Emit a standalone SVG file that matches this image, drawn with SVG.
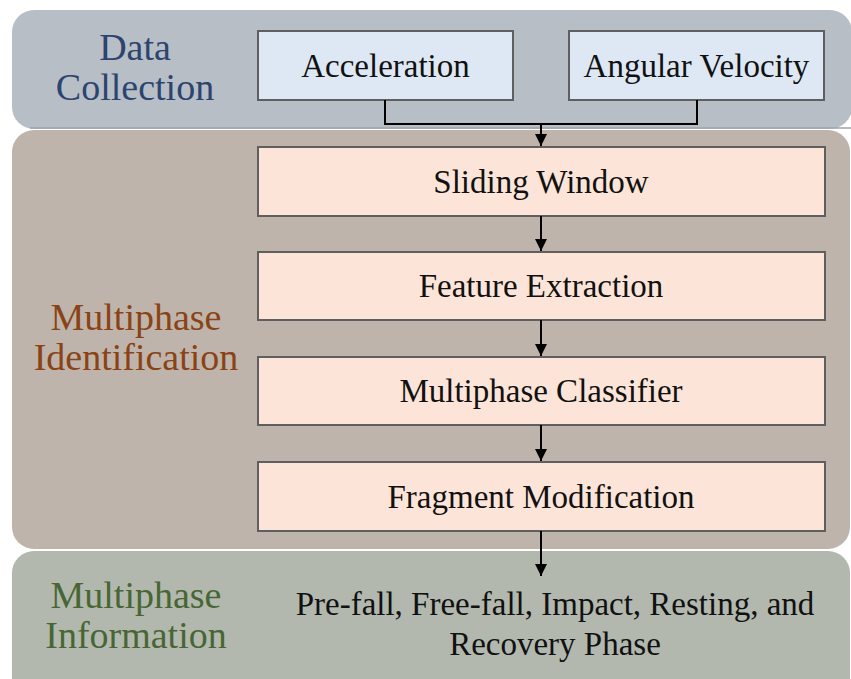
<svg xmlns="http://www.w3.org/2000/svg" width="851" height="679" viewBox="0 0 851 679">
<defs>
<style>
.box{stroke:#5f5f5f;stroke-width:2}
.blue{fill:#dde8f4}
.peach{fill:#fce5d8}
.conn{fill:none;stroke:#000;stroke-width:2}
.t{font-family:'Liberation Serif','Times New Roman',serif;font-size:33px;fill:#111;text-anchor:middle}
.lbl{font-family:'Liberation Serif','Times New Roman',serif;font-size:38px;text-anchor:middle}
</style>
<marker id="ah" markerWidth="12" markerHeight="12" refX="12" refY="6" orient="auto" markerUnits="userSpaceOnUse">
<path d="M0,0 L12,6 L0,12 Z" fill="#000"/>
</marker>
</defs>
<rect width="851" height="679" fill="#fff"/>
<g id="panel-data">
<rect x="12" y="10" width="840" height="119" rx="22" fill="#b8bec5"/>
<line x1="30" y1="128" x2="851" y2="128" stroke="#9ea3a8" stroke-width="1.5"/>
<text class="lbl" x="135" y="60" fill="#2c4470" style="font-family:'Liberation Serif',serif">Data</text>
<text class="lbl" x="135" y="100" fill="#2c4470" style="font-family:'Liberation Serif',serif">Collection</text>
</g>
<g id="panel-ident">
<rect x="12" y="130" width="838" height="419" rx="22" fill="#bfb4ab"/>
<text class="lbl" x="136" y="330" fill="#8a4315" style="font-family:'Liberation Serif',serif">Multiphase</text>
<text class="lbl" x="136" y="370" fill="#8a4315" style="font-family:'Liberation Serif',serif">Identification</text>
</g>
<g id="panel-info">
<rect x="12" y="551" width="838" height="160" rx="22" fill="#b2b8ae"/>
<text class="lbl" x="136" y="608" fill="#476633" style="font-family:'Liberation Serif',serif">Multiphase</text>
<text class="lbl" x="136" y="648" fill="#476633" style="font-family:'Liberation Serif',serif">Information</text>
</g>
<g id="node-acceleration">
<rect class="box blue" x="258" y="31" width="255" height="69"/>
<text class="t" x="385.5" y="77" style="font-family:'Liberation Serif',serif">Acceleration</text>
</g>
<g id="node-angular">
<rect class="box blue" x="569" y="31" width="255" height="69"/>
<text class="t" x="696.5" y="77" style="font-family:'Liberation Serif',serif">Angular Velocity</text>
</g>
<g id="node-sliding">
<rect class="box peach" x="258" y="147" width="567" height="69"/>
<text class="t" x="541" y="193" style="font-family:'Liberation Serif',serif">Sliding Window</text>
</g>
<g id="node-feature">
<rect class="box peach" x="258" y="252" width="567" height="68"/>
<text class="t" x="541" y="297" style="font-family:'Liberation Serif',serif">Feature Extraction</text>
</g>
<g id="node-classifier">
<rect class="box peach" x="258" y="357" width="567" height="68"/>
<text class="t" x="541" y="402" style="font-family:'Liberation Serif',serif">Multiphase Classifier</text>
</g>
<g id="node-fragment">
<rect class="box peach" x="258" y="462" width="567" height="69"/>
<text class="t" x="541" y="508" style="font-family:'Liberation Serif',serif">Fragment Modification</text>
</g>
<g id="node-output">
<text class="t" x="555" y="615" style="font-family:'Liberation Serif',serif">Pre-fall, Free-fall, Impact, Resting, and</text>
<text class="t" x="555" y="655" style="font-family:'Liberation Serif',serif">Recovery Phase</text>
</g>
<g id="connectors">
<path class="conn" d="M385,100 V124 H697 V100"/>
<path class="conn" d="M541,124 V146" marker-end="url(#ah)"/>
<path class="conn" d="M541,216 V251" marker-end="url(#ah)"/>
<path class="conn" d="M541,320 V356" marker-end="url(#ah)"/>
<path class="conn" d="M541,425 V461" marker-end="url(#ah)"/>
<path class="conn" d="M541,531 V576" marker-end="url(#ah)"/>
</g>
</svg>
